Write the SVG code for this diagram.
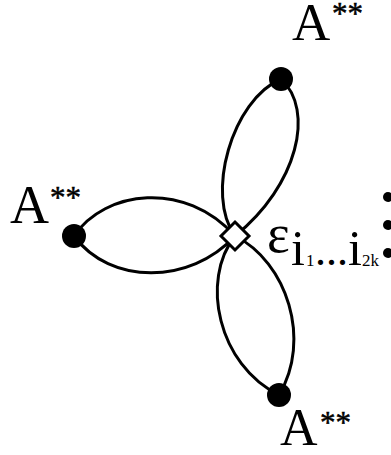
<svg xmlns="http://www.w3.org/2000/svg" width="391" height="455" viewBox="0 0 391 455">
<style>
.edge{fill:none;stroke:#000;stroke-width:3}
.node{fill:#000}
.t{font-family:"Liberation Serif","Times New Roman",serif;fill:#000}
.s{font-family:"Liberation Serif","Times New Roman",serif;fill:#000;stroke:#000;stroke-width:0.5;font-size:31px}
</style>
<rect width="391" height="455" fill="#fff"/>
<g id="connectors">
<path class="edge" d="M281,79 C315,110 298,185 235,236"/>
<path class="edge" d="M281,79 C232,100 205,195 235,236"/>
<path class="edge" d="M74,236 C105,190 185,180 235,236"/>
<path class="edge" d="M74,236 C110,285 190,285 235,236"/>
<path class="edge" d="M235,236 C200,280 218,365 279,395"/>
<path class="edge" d="M235,236 C287,262 312,340 279,395"/>
</g>
<g id="node-top">
<circle class="node" cx="281" cy="79" r="12"/>
<text class="t" x="292" y="40" font-size="53">A</text>
<text class="s" x="332" y="24">**</text>
</g>
<g id="node-left">
<circle class="node" cx="74" cy="236" r="12"/>
<text class="t" x="10" y="223" font-size="54">A</text>
<text class="s" x="50" y="208">**</text>
</g>
<g id="node-bottom">
<circle class="node" cx="279" cy="395" r="12"/>
<text class="t" x="280" y="445" font-size="52">A</text>
<text class="s" x="320" y="433">**</text>
</g>
<g id="vertex">
<path d="M235,222 L249,236 L235,250 L221,236 Z" fill="#fff" stroke="#000" stroke-width="3"/>
<text class="t"><tspan x="267" y="252" font-size="54">ε</tspan><tspan x="291" y="265" font-size="50">i</tspan><tspan x="306" y="266" font-size="17">1</tspan><tspan x="315" y="265" font-size="44">...</tspan><tspan x="348" y="265" font-size="50">i</tspan><tspan x="362" y="266" font-size="17">2k</tspan></text>
</g>
<g id="dots">
<circle class="node" cx="388" cy="197" r="5"/>
<circle class="node" cx="388" cy="225" r="5"/>
<circle class="node" cx="388" cy="253" r="5"/>
</g>
</svg>
